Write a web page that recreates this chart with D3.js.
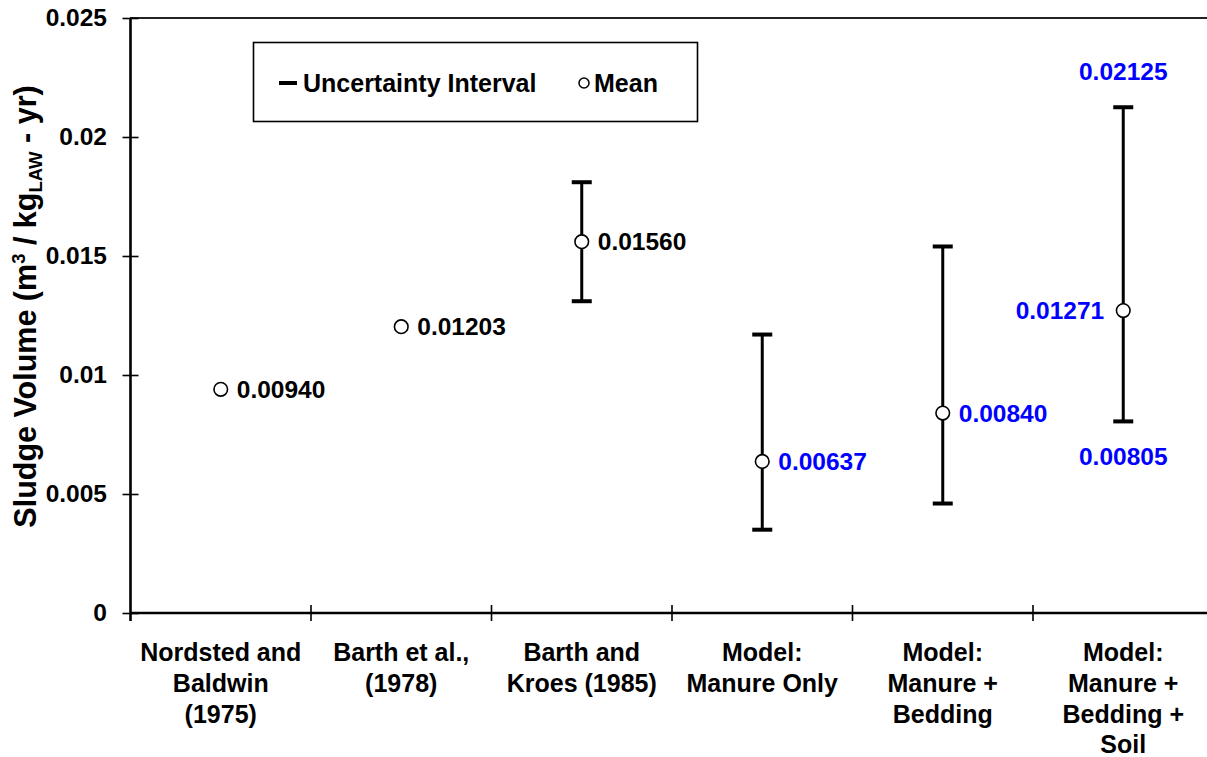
<!DOCTYPE html>
<html>
<head>
<meta charset="utf-8">
<script src="https://cdn.jsdelivr.net/npm/d3@7.9.0/dist/d3.min.js"></script>
<style>
  body { margin: 0; background: #fff; }
  svg { display: block; font-family: "Liberation Sans", Arial, sans-serif; font-weight: bold; }
</style>
</head>
<body>
<svg id="chart" width="1207" height="757"></svg>
<script>
// data
const categories = [
  ['Nordsted and', 'Baldwin', '(1975)'],
  ['Barth et al.,', '(1978)'],
  ['Barth and', 'Kroes (1985)'],
  ['Model:', 'Manure Only'],
  ['Model:', 'Manure +', 'Bedding'],
  ['Model:', 'Manure +', 'Bedding +', 'Soil']
];
const means = [0.00940, 0.01203, 0.01560, 0.00637, 0.00840, 0.01271];
const lows = [null, null, 0.0131, 0.0035, 0.0046, 0.00805];
const highs = [null, null, 0.0181, 0.0117, 0.0154, 0.02125];
const isModel = [false, false, false, true, true, true];
const showBounds = [false, false, false, false, false, true];
const yTicks = [0, 0.005, 0.01, 0.015, 0.02, 0.025];

const svg = d3.select('#chart');
const fmt = d3.format('.5f');

// scales
const x = d3.scaleBand()
  .domain(d3.range(categories.length))
  .range([130.5, 1213.5])
  .padding(0);
const y = d3.scaleLinear().domain([0, 0.025]).range([613, 18]);
const cx = (i) => x(i) + x.bandwidth() / 2;

// top frame line
svg.append('line')
  .attr('x1', 130).attr('x2', 1207)
  .attr('y1', y(0.025)).attr('y2', y(0.025))
  .attr('stroke', '#222').attr('stroke-width', 1.8);

// y axis
const yAxis = svg.append('g')
  .attr('transform', 'translate(130.5,0)')
  .call(d3.axisLeft(y).tickValues(yTicks).tickFormat((d) => String(d)).tickSize(8).tickPadding(15.5));
yAxis.select('.domain').remove();
yAxis.selectAll('.tick line').attr('x1', 8).attr('x2', -8).attr('stroke', '#000').attr('stroke-width', 1.6);
yAxis.selectAll('.tick text')
  .attr('font-size', 24.5)
  .attr('font-family', '"Liberation Sans", Arial, sans-serif')
  .attr('font-weight', 'bold')
  .attr('fill', '#000');
svg.append('line')
  .attr('x1', 130.5).attr('x2', 130.5)
  .attr('y1', y(0.025)).attr('y2', 621)
  .attr('stroke', '#000').attr('stroke-width', 2.6);

// x axis
svg.append('line')
  .attr('x1', 130).attr('x2', 1207)
  .attr('y1', y(0)).attr('y2', y(0))
  .attr('stroke', '#000').attr('stroke-width', 2.6);
svg.append('g').selectAll('line')
  .data(d3.range(1, categories.length))
  .join('line')
  .attr('x1', (i) => x(i)).attr('x2', (i) => x(i))
  .attr('y1', y(0) - 8).attr('y2', y(0) + 8)
  .attr('stroke', '#000').attr('stroke-width', 1.6);

// category labels
svg.append('g').selectAll('text')
  .data(categories)
  .join('text')
  .attr('text-anchor', 'middle')
  .attr('font-size', 25)
  .attr('fill', '#000')
  .each(function (lines, i) {
    d3.select(this).selectAll('tspan')
      .data(lines)
      .join('tspan')
      .attr('x', cx(i))
      .attr('y', (d, k) => 661 + k * 30.8)
      .text((d) => d);
  });

// y axis title
const title = svg.append('text')
  .attr('transform', 'translate(36,306.5) rotate(-90)')
  .attr('text-anchor', 'middle')
  .attr('font-size', 30.5)
  .attr('fill', '#000');
title.append('tspan').text('Sludge Volume (m');
title.append('tspan').attr('font-size', 18.5).attr('dy', -11).text('3');
title.append('tspan').attr('dy', 11).text(' / kg');
title.append('tspan').attr('font-size', 18.5).attr('dy', 6).text('LAW');
title.append('tspan').attr('dy', -6).text(' - yr)');

// uncertainty intervals
const bars = svg.append('g').selectAll('g')
  .data(d3.range(means.length).filter((i) => lows[i] !== null))
  .join('g');
bars.append('line')
  .attr('x1', (i) => cx(i)).attr('x2', (i) => cx(i))
  .attr('y1', (i) => y(lows[i])).attr('y2', (i) => y(highs[i]))
  .attr('stroke', '#000').attr('stroke-width', 3);
bars.append('line')
  .attr('x1', (i) => cx(i) - 10).attr('x2', (i) => cx(i) + 10)
  .attr('y1', (i) => y(lows[i])).attr('y2', (i) => y(lows[i]))
  .attr('stroke', '#000').attr('stroke-width', 4);
bars.append('line')
  .attr('x1', (i) => cx(i) - 10).attr('x2', (i) => cx(i) + 10)
  .attr('y1', (i) => y(highs[i])).attr('y2', (i) => y(highs[i]))
  .attr('stroke', '#000').attr('stroke-width', 4);

// means
svg.append('g').selectAll('circle')
  .data(means)
  .join('circle')
  .attr('cx', (d, i) => cx(i))
  .attr('cy', (d) => y(d))
  .attr('r', 6.8)
  .attr('fill', '#fff')
  .attr('stroke', '#000')
  .attr('stroke-width', 1.6);

// mean labels (last one sits on the left of its point)
svg.append('g').selectAll('text')
  .data(means)
  .join('text')
  .attr('x', (d, i) => showBounds[i] ? cx(i) - 19 : cx(i) + 16)
  .attr('y', (d) => y(d))
  .attr('dy', '0.35em')
  .attr('text-anchor', (d, i) => showBounds[i] ? 'end' : 'start')
  .attr('font-size', 24.5)
  .attr('fill', (d, i) => isModel[i] ? '#0000ff' : '#000')
  .text((d) => fmt(d));

// interval end labels
const bounded = d3.range(means.length).filter((i) => showBounds[i]);
svg.append('g').selectAll('text')
  .data(bounded.flatMap((i) => [{ i, v: highs[i], dy: -27 }, { i, v: lows[i], dy: 44 }]))
  .join('text')
  .attr('x', (d) => cx(d.i))
  .attr('y', (d) => y(d.v) + d.dy)
  .attr('text-anchor', 'middle')
  .attr('font-size', 24.5)
  .attr('fill', '#0000ff')
  .text((d) => fmt(d.v));

// legend
const legend = svg.append('g');
legend.append('rect')
  .attr('x', 253.5).attr('y', 42.5).attr('width', 444).attr('height', 79)
  .attr('fill', '#fff').attr('stroke', '#000').attr('stroke-width', 1.6);
legend.append('line')
  .attr('x1', 279).attr('x2', 297).attr('y1', 83).attr('y2', 83)
  .attr('stroke', '#000').attr('stroke-width', 4);
legend.append('text')
  .attr('x', 303).attr('y', 92)
  .attr('font-size', 25).attr('fill', '#000')
  .text('Uncertainty Interval');
legend.append('circle')
  .attr('cx', 584).attr('cy', 83).attr('r', 5)
  .attr('fill', '#fff').attr('stroke', '#000').attr('stroke-width', 1.5);
legend.append('text')
  .attr('x', 594).attr('y', 92)
  .attr('font-size', 25).attr('fill', '#000')
  .text('Mean');
</script>
</body>
</html>
